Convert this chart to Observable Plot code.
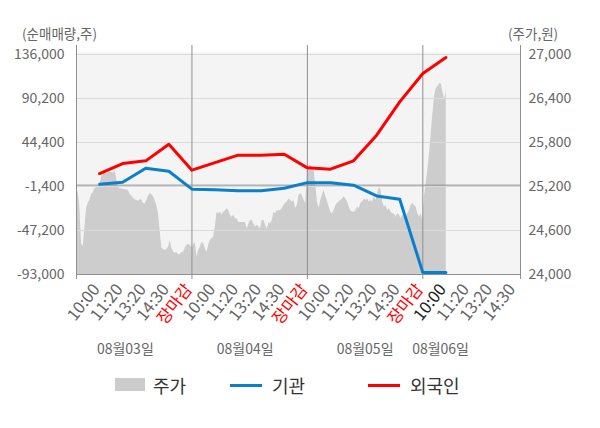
<!DOCTYPE html>
<html><head><meta charset="utf-8">
<script src="https://cdn.jsdelivr.net/npm/d3@7"></script>
<script src="https://cdn.jsdelivr.net/npm/@observablehq/plot@0.6"></script>
<style>
body{margin:0;background:#fff;font-family:"Noto Sans CJK KR",sans-serif;}
#wrap{position:relative;width:600px;height:428px;overflow:hidden;}
#wrap svg{position:absolute;left:0;top:0;}
.t{position:absolute;white-space:nowrap;color:#666;font-size:13.5px;line-height:1;}
.lg{position:absolute;white-space:nowrap;font-size:18px;color:#333;line-height:1;}
.sw{position:absolute;}
</style></head><body><div id="wrap">
<div class="t" style="left:22px;top:27px">(순매매량,주)</div>
<div class="t" style="left:508px;top:27px">(주가,원)</div>
<div class="sw" style="left:115px;top:378px;width:30px;height:13px;background:#cccccc"></div>
<div class="lg" style="left:153px;top:376px">주가</div>
<div class="sw" style="left:230px;top:384px;width:32px;height:3px;background:#0a7fcc"></div>
<div class="lg" style="left:272px;top:376px">기관</div>
<div class="sw" style="left:368px;top:384px;width:32px;height:3px;background:#ff0000"></div>
<div class="lg" style="left:410px;top:376px">외국인</div>
</div>
<script>
// ---- data ----
const days = ["08월03일", "08월04일", "08월05일", "08월06일"];
const timeLabels = ["10:00", "11:20", "13:20", "14:30", "장마감"];
const leftTicks = [-93000, -47200, -1400, 44400, 90200, 136000];
const priceTicks = [24000, 24600, 25200, 25800, 26400, 27000];
// net buying (shares) at each label slot, 08/03 10:00 .. 08/06 10:00
const institution = [1000, 3000, 17600, 14500, -4200, -4700, -5800, -5800, -3200, 2600, 2600, 0, -11200, -14600, -91000, -91000];
const foreign = [12100, 22500, 25300, 42600, 15600, 23400, 31200, 31200, 32200, 18000, 16600, 25300, 52000, 86700, 116200, 132900];
// stock price (won), sampled uniformly through each session
const price0803 = [25160, 25120, 24920, 24420, 24380, 24630, 24900, 24970, 25010, 25090,
  25110, 25170, 25190, 25200, 25230, 25320, 25410, 25410, 25370, 25390,
  25390, 25390, 25380, 25410, 25310, 25190, 25170, 25170, 25160, 25160,
  25150, 25150, 25090, 25070, 25040, 25020, 25010, 25000, 25020, 25020,
  24970, 24960, 25010, 25070, 25100, 25090, 25060, 25010, 24940, 24830,
  24600, 24360, 24340, 24330, 24340, 24370, 24460, 24360, 24310, 24290,
  24300, 24270, 24270, 24300, 24300, 24360, 24400, 24410, 24400, 24360];
const price0804 = [24400, 24440, 24240, 24330, 24370, 24440, 24420, 24350, 24300, 24400,
  24460, 24490, 24510, 24650, 24850, 24830, 24850, 24810, 24850, 24870,
  24900, 24870, 24810, 24780, 24810, 24760, 24760, 24710, 24710, 24710,
  24710, 24710, 24620, 24690, 24740, 24740, 24690, 24650, 24670, 24650,
  24620, 24740, 24740, 24670, 24620, 24710, 24690, 24740, 24850, 24830,
  24870, 24870, 24870, 24900, 24940, 24970, 24990, 25030, 25010, 24990,
  25010, 24900, 24940, 25080, 25100, 25080, 25010, 24970];
const price0805 = [25420, 25490, 25490, 25470, 25420, 25220, 24990, 24900, 25010, 25080,
  25150, 25060, 25000, 24920, 24850, 24830, 24870, 24940, 24970, 24990,
  25010, 25030, 25060, 25030, 24990, 24920, 24870, 24850, 24850, 24870,
  24920, 24900, 24970, 24990, 25030, 25010, 25030, 24990, 25010, 24990,
  25060, 25010, 25100, 25190, 25150, 24990, 24920, 24940, 24870, 24900,
  24850, 24830, 24830, 24780, 24830, 24810, 24760, 24810, 24780, 24760,
  24830, 24870, 24940, 24970, 24940, 24920, 24830, 24780, 24830, 24740];
const price0806 = [25060, 25240, 25420, 25650, 25920, 26190, 26420, 26540, 26560, 26600, 26600, 26490, 26380, 26510];
const dateLabelMinute = [165, 570, 975, 1230];

// ---- derived ----
const SESSION = 390, SLOT = 78, PSTEP = SESSION / 69;
const toLeft = p => -93000 + (p - 24000) * 229000 / 3000;
const fmt = d => d3.format(",")(d).replace("\u2212", "-");
const prices = [...price0803, ...price0804, ...price0805, ...price0806];
const priceData = prices.map((p, i) => ({t: i * PSTEP, v: toLeft(p)}));
const instData = institution.map((v, i) => ({t: (i + 1) * SLOT, v}));
const forData = foreign.map((v, i) => ({t: (i + 1) * SLOT, v}));
const xTicks = [];
days.forEach((d, di) => {
  const n = di === 3 ? 4 : 5;
  for (let k = 1; k <= n; k++) {
    xTicks.push({t: di * SESSION + k * SLOT, label: timeLabels[k - 1],
      kind: k === 5 ? "close" : (di === 3 && k === 1 ? "now" : "plain")});
  }
});
const dateData = days.map((label, i) => ({label, t: dateLabelMinute[i]}));
const bounds = [0, SESSION, 2 * SESSION, 3 * SESSION, 1500];
const lab = {x: "t", text: "label", frameAnchor: "bottom", rotate: -52, textAnchor: "end", dx: 1, dy: 15, fontSize: 16.5};

const chart = Plot.plot({
  width: 600, height: 428, marginLeft: 76, marginRight: 80, marginTop: 54, marginBottom: 154,
  style: {fontFamily: '"Noto Sans CJK KR", sans-serif', fontSize: "14px", background: "transparent", overflow: "visible"},
  x: {domain: [0, 1500], axis: null},
  y: {domain: [-93000, 136000], axis: null},
  marks: [
    Plot.frame({fill: "#f4f4f4", stroke: null, insetTop: -2}),
    Plot.areaY(priceData, {x: "t", y1: () => -93000, y2: "v", fill: "#cdcdcd"}),
    Plot.gridY(leftTicks, {stroke: "#dadada", strokeOpacity: 1}),
    Plot.ruleY([0], {stroke: "#8f8f8f"}),
    Plot.ruleY([-93000], {stroke: "#8f8f8f"}),
    Plot.ruleX(bounds, {stroke: "#8f8f8f", insetTop: -9, insetBottom: -5}),
    Plot.line(instData, {x: "t", y: "v", stroke: "#0a7fcc", strokeWidth: 3}),
    Plot.line(forData, {x: "t", y: "v", stroke: "#ff0000", strokeWidth: 3}),
    Plot.axisY({anchor: "left", ticks: leftTicks, tickFormat: fmt, tickSize: 0, tickPadding: 12, fill: "#666", fontSize: 14, label: null}),
    Plot.axisY({anchor: "right", ticks: leftTicks, tickFormat: d => fmt(priceTicks[leftTicks.indexOf(d)]), tickSize: 0, tickPadding: 8, fill: "#666", fontSize: 14, label: null}),
    Plot.text(xTicks.filter(d => d.kind === "plain"), {...lab, fill: "#666"}),
    Plot.text(xTicks.filter(d => d.kind === "close"), {...lab, fill: "#ff0000"}),
    Plot.text(xTicks.filter(d => d.kind === "now"), {...lab, fill: "#222"}),
    Plot.text(dateData, {x: "t", text: "label", frameAnchor: "bottom", dy: 79, fill: "#666", fontSize: 14})
  ]
});
document.getElementById("wrap").prepend(chart);
</script></body></html>
